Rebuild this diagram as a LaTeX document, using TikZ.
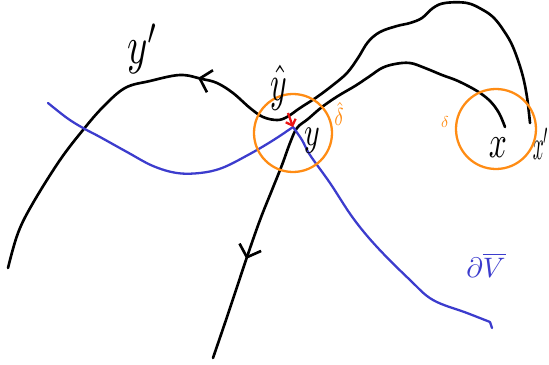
\documentclass[tikz,border=0pt]{standalone}
\usepackage{graphicx}
\usetikzlibrary{arrows.meta,decorations.markings}
\definecolor{penblue}{RGB}{60,60,205}
\definecolor{penorange}{RGB}{255,140,20}
\definecolor{penred}{RGB}{235,20,20}
\newcommand{\hand}[3]{\scalebox{#1}[#2]{#3}}
\begin{document}
\begin{tikzpicture}[x=0.02cm, y=-0.02cm,
  curve/.style={line width=1.5pt, line cap=round, line join=round},
  bound/.style={penblue, line width=1.3pt, line cap=round, line join=round},
  ball/.style={penorange, line width=1.3pt},
  lbl/.style={inner sep=0pt},
  midarrow/.style={postaction={decorate}, decoration={markings,
    mark=at position #1 with {\arrowreversed{Straight Barb[length=6pt,width=13pt,line width=1.5pt]}}}}]
  \useasboundingbox (0,0) rectangle (549,365);
  % curve y'
  \draw[curve, midarrow=0.385] plot[smooth, tension=0.6] coordinates {(8,268) (18,233) (33,203) (60,160) (83,130) (103,107) (125,88) (150,81) (180,75) (202,79) (217,83) (233,93) (250,108) (263,117) (277,120) (287,117) (300,108) (317,97) (333,85) (347,73) (358,58) (368,42) (380,32) (397,26) (410,23) (422,18) (433,8) (445,3) (467,3) (483,10) (494,18) (504,31) (513,47) (522,73) (527,97) (530,123)};
  % curve y
  \draw[curve, midarrow=0.21] plot[smooth, tension=0.6] coordinates {(213,358) (227,317) (237,287) (247,257) (260,220) (272,190) (282,165) (290,143) (297,128) (308,119) (322,107) (338,96) (355,86) (370,76) (382,68) (395,64) (410,63) (425,68) (442,75) (458,81) (477,91) (490,101) (499,113) (505,127)};
  % boundary
  \draw[bound] plot[smooth, tension=0.6] coordinates {(48,103) (67,118) (83,128) (100,137) (127,152) (153,166) (177,173) (200,173) (222,168) (248,155) (272,141) (293,127)};
  \draw[bound] plot[smooth, tension=0.6] coordinates {(293,127) (302,140) (310,155) (330,183) (353,218) (377,247) (410,280) (433,300) (467,313) (490,322)} -- (492,328);
  % balls
  \draw[ball] (293,133) circle[radius=39];
  \draw[ball] (496,129) circle[radius=40];
  % vector v
  \draw[penred, line width=1.3pt, -{Straight Barb[length=3pt,width=6pt]}] (288,113) -- (293,127);
  % labels
  \node[lbl] (yprime) at (143,49) {\hand{2.2}{3.0}{$y'$}};
  \node[lbl] (yhat) at (279,88) {\hand{1.8}{2.9}{$\hat{y}$}};
  \node[lbl] (ylab) at (312,141) {\hand{1.7}{2.3}{$y$}};
  \node[lbl] (xlab) at (498,148) {\hand{1.8}{2.6}{$x$}};
  \node[lbl] (xprime) at (541,144) {\hand{1.1}{2.4}{$x'$}};
  \node[lbl, text=penorange] (deltahat) at (339,114) {\hand{1.1}{1.4}{$\hat{\delta}$}};
  \node[lbl, text=penorange] (deltalab) at (445,122) {\hand{0.9}{0.9}{$\delta$}};
  \node[lbl, text=penblue] (boundlab) at (486,265) {\hand{1.6}{1.6}{$\partial\overline{V}$}};
\end{tikzpicture}
\end{document}
